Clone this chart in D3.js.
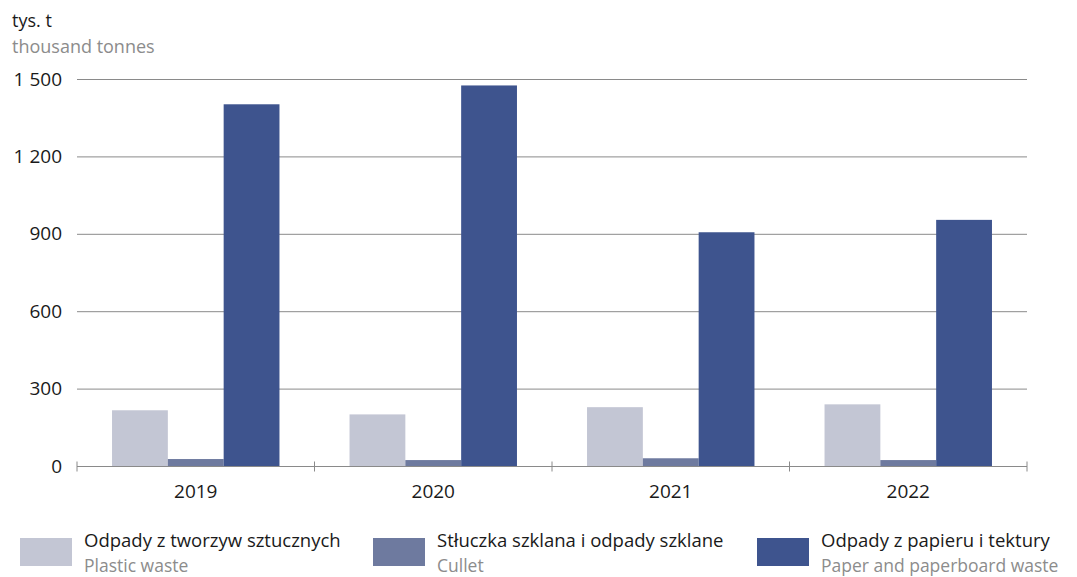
<!DOCTYPE html>
<html>
<head>
<meta charset="utf-8">
<script src="https://cdn.jsdelivr.net/npm/d3@7"></script>
<style>
  body { margin: 0; background: #fff; }
  text { font-family: "Open Sans", "Noto Sans", sans-serif; }
</style>
</head>
<body>
<div id="chart"></div>
<script>
const Years = ["2019", "2020", "2021", "2022"];
const SeriesPl = ["Odpady z tworzyw sztucznych", "Stłuczka szklana i odpady szklane", "Odpady z papieru i tektury"];
const SeriesEn = ["Plastic waste", "Cullet", "Paper and paperboard waste"];
const Plastic = [216, 200, 228, 239];
const Cullet = [27, 23, 30, 23];
const Paper = [1402, 1475, 906, 954];
const YTicks = [0, 300, 600, 900, 1200, 1500];
const Colors = ["#C3C6D4", "#6E7A9F", "#3E548E"];

const Width = 1077, Height = 577;
const Margin = { top: 79, right: 50, bottom: 111, left: 77 };

const Svg = d3.select('#chart').append('svg')
  .attr('width', Width).attr('height', Height);

const x0 = d3.scaleBand().domain(Years).range([Margin.left, Width - Margin.right]).paddingInner(0).paddingOuter(0);
const inner = x0.bandwidth() * 0.705;
const x1 = d3.scaleBand().domain([0, 1, 2]).range([0, inner]);
const y = d3.scaleLinear().domain([0, 1500]).range([Height - Margin.bottom, Margin.top]);

// grid
Svg.append('g').selectAll('line').data(YTicks.slice(1)).enter().append('line')
  .attr('x1', Margin.left).attr('x2', Width - Margin.right)
  .attr('y1', d => y(d) + 0.5).attr('y2', d => y(d) + 0.5)
  .attr('stroke', '#8a8a8a').attr('stroke-width', 1);

// y labels
Svg.append('g').selectAll('text').data(YTicks).enter().append('text')
  .attr('x', 62).attr('y', d => y(d)).attr('dy', '0.35em')
  .attr('text-anchor', 'end').style('font-size', '19px').attr('fill', '#1a1a1a')
  .text(d => d3.format(',')(d).replace(',', ' '));

// bars
const Series = [Plastic, Cullet, Paper];
Years.forEach((yr, i) => {
  const g = Svg.append('g').attr('transform', `translate(${x0(yr) + (x0.bandwidth() - inner) / 2},0)`);
  g.selectAll('rect').data(Series.map(s => s[i])).enter().append('rect')
    .attr('x', (d, k) => x1(k)).attr('width', x1.bandwidth())
    .attr('y', d => y(d)).attr('height', d => y(0) - y(d))
    .attr('fill', (d, k) => Colors[k]);
});

// x axis
const xAxis = Svg.append('g').attr('transform', `translate(0,${y(0) + 0.5})`);
xAxis.append('line').attr('x1', Margin.left).attr('x2', Width - Margin.right)
  .attr('stroke', '#8a8a8a').attr('stroke-width', 1.2);
const Bounds = Years.map(yr => x0(yr)).concat([x0(Years[Years.length - 1]) + x0.bandwidth()]);
xAxis.selectAll('.tk').data(Bounds).enter().append('line')
  .attr('x1', d => d).attr('x2', d => d).attr('y1', -5).attr('y2', 5)
  .attr('stroke', '#8a8a8a');
xAxis.selectAll('text').data(Years).enter().append('text')
  .attr('x', d => x0(d) + x0.bandwidth() / 2).attr('y', 31)
  .attr('text-anchor', 'middle').style('font-size', '19px').attr('fill', '#1a1a1a')
  .text(d => d);

// unit
Svg.append('text').attr('x', 12).attr('y', 27).style('font-size', '18px').attr('fill', '#1a1a1a').text('tys. t');
Svg.append('text').attr('x', 12).attr('y', 53).style('font-size', '18px').attr('fill', '#8c8c8c').text('thousand tonnes');

// legend
const LegendX = [20, 373, 757];
SeriesPl.forEach((name, k) => {
  const g = Svg.append('g').attr('transform', `translate(${LegendX[k]},0)`);
  g.append('rect').attr('x', 0).attr('y', 538).attr('width', 52).attr('height', 28).attr('fill', Colors[k]);
  g.append('text').attr('x', 64).attr('y', 547).style('font-size', '18.5px').attr('fill', '#1a1a1a').text(name);
  g.append('text').attr('x', 64).attr('y', 572).style('font-size', '17.5px').attr('fill', '#8c8c8c').text(SeriesEn[k]);
});
</script>
</body>
</html>
